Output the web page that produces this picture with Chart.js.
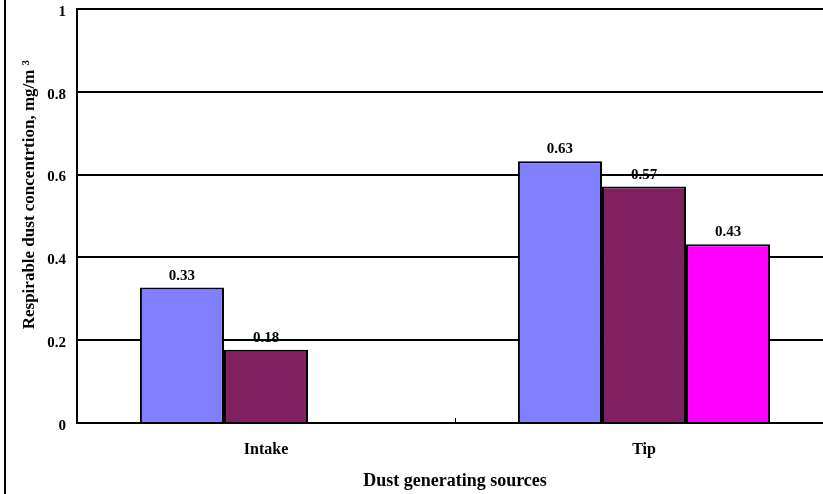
<!DOCTYPE html>
<html><head><meta charset="utf-8">
<script src="https://cdn.jsdelivr.net/npm/chart.js@4/dist/chart.umd.min.js"></script>
<style>
html,body{margin:0;padding:0;background:#fff;overflow:hidden;width:823px;height:494px}
#frame{position:absolute;left:4px;top:0;width:0;height:494px;border-left:2px solid #000}
#wrap{position:absolute;left:0;top:0;width:834px;height:494px}
</style></head>
<body>
<div id="wrap"><canvas id="c"></canvas></div>
<div id="frame"></div>
<script>
const categories = ['Intake', 'Tip'];
const seriesA = [0.327, 0.632];
const seriesB = [0.177, 0.571];
const seriesC = [null, 0.432];
const seriesLabels = ['Series 1', 'Series 2', 'Series 3'];
const colors = ['#8080FF', '#802060', '#FF00FF'];
const FONT = '"Liberation Serif", "Times New Roman", serif';

const valueLabels = {
  id: 'valueLabels',
  afterDatasetsDraw(chart) {
    const ctx = chart.ctx;
    ctx.save();
    ctx.font = 'bold 15px ' + FONT;
    ctx.fillStyle = '#000';
    ctx.textAlign = 'center';
    ctx.textBaseline = 'alphabetic';
    chart.data.datasets.forEach((ds, i) => {
      chart.getDatasetMeta(i).data.forEach((bar, j) => {
        const v = ds.data[j];
        if (v == null) return;
        ctx.fillText(v.toFixed(2), bar.x, bar.y - 8);
      });
    });
    ctx.restore();
  }
};

const innerTicks = {
  id: 'innerTicks',
  afterDatasetsDraw(chart) {
    const ctx = chart.ctx, xs = chart.scales.x, y0 = chart.scales.y.getPixelForValue(0);
    ctx.save();
    ctx.strokeStyle = '#000'; ctx.lineWidth = 1;
    for (let i = 0; i < categories.length - 1; i++) {
      const x = Math.round(xs.getPixelForValue(i + 0.5)) + 0.5;
      ctx.beginPath(); ctx.moveTo(x, y0); ctx.lineTo(x, y0 - 5); ctx.stroke();
    }
    ctx.restore();
  }
};

new Chart(document.getElementById('c'), {
  type: 'bar',
  data: {
    labels: categories,
    datasets: [seriesA, seriesB, seriesC].map((d, i) => ({
      label: seriesLabels[i], data: d, backgroundColor: colors[i],
      borderColor: '#000', borderWidth: 2,
      categoryPercentage: 0.667, barPercentage: 1
    }))
  },
  options: {
    responsive: true, maintainAspectRatio: false, animation: false,
    layout: { padding: { top: 9, right: 1, left: 0, bottom: 0 } },
    plugins: { legend: { display: false }, tooltip: { enabled: false } },
    scales: {
      x: {
        grid: { display: false, drawTicks: false },
        border: { color: '#000', width: 2 },
        ticks: { color: '#000', font: { family: FONT, size: 16, weight: 'bold' }, padding: 17 },
        title: { display: true, text: 'Dust generating sources', color: '#000',
                 font: { family: FONT, size: 18, weight: 'bold' }, padding: { top: 0, bottom: 2 } },
        afterFit(s) { s.height = 71; }
      },
      y: {
        min: 0, max: 1,
        ticks: { stepSize: 0.2, color: '#000', font: { family: FONT, size: 15, weight: 'bold' }, padding: 11,
                 labelOffset: 3,
                 callback: v => String(Math.round(v * 10) / 10) },
        grid: { color: '#000', lineWidth: 2, drawTicks: false },
        border: { color: '#000', width: 2 },
        title: { display: true, text: '          Respirable dust concentrtion, mg/m \u00B3', color: '#000',
                 font: { family: FONT, size: 17, weight: 'bold' }, padding: { top: 19, bottom: 0 } },
        afterFit(s) { s.width = 77; s.paddingTop = 0; s.paddingBottom = 0; }
      }
    }
  },
  plugins: [valueLabels, innerTicks]
});
</script>
</body></html>
